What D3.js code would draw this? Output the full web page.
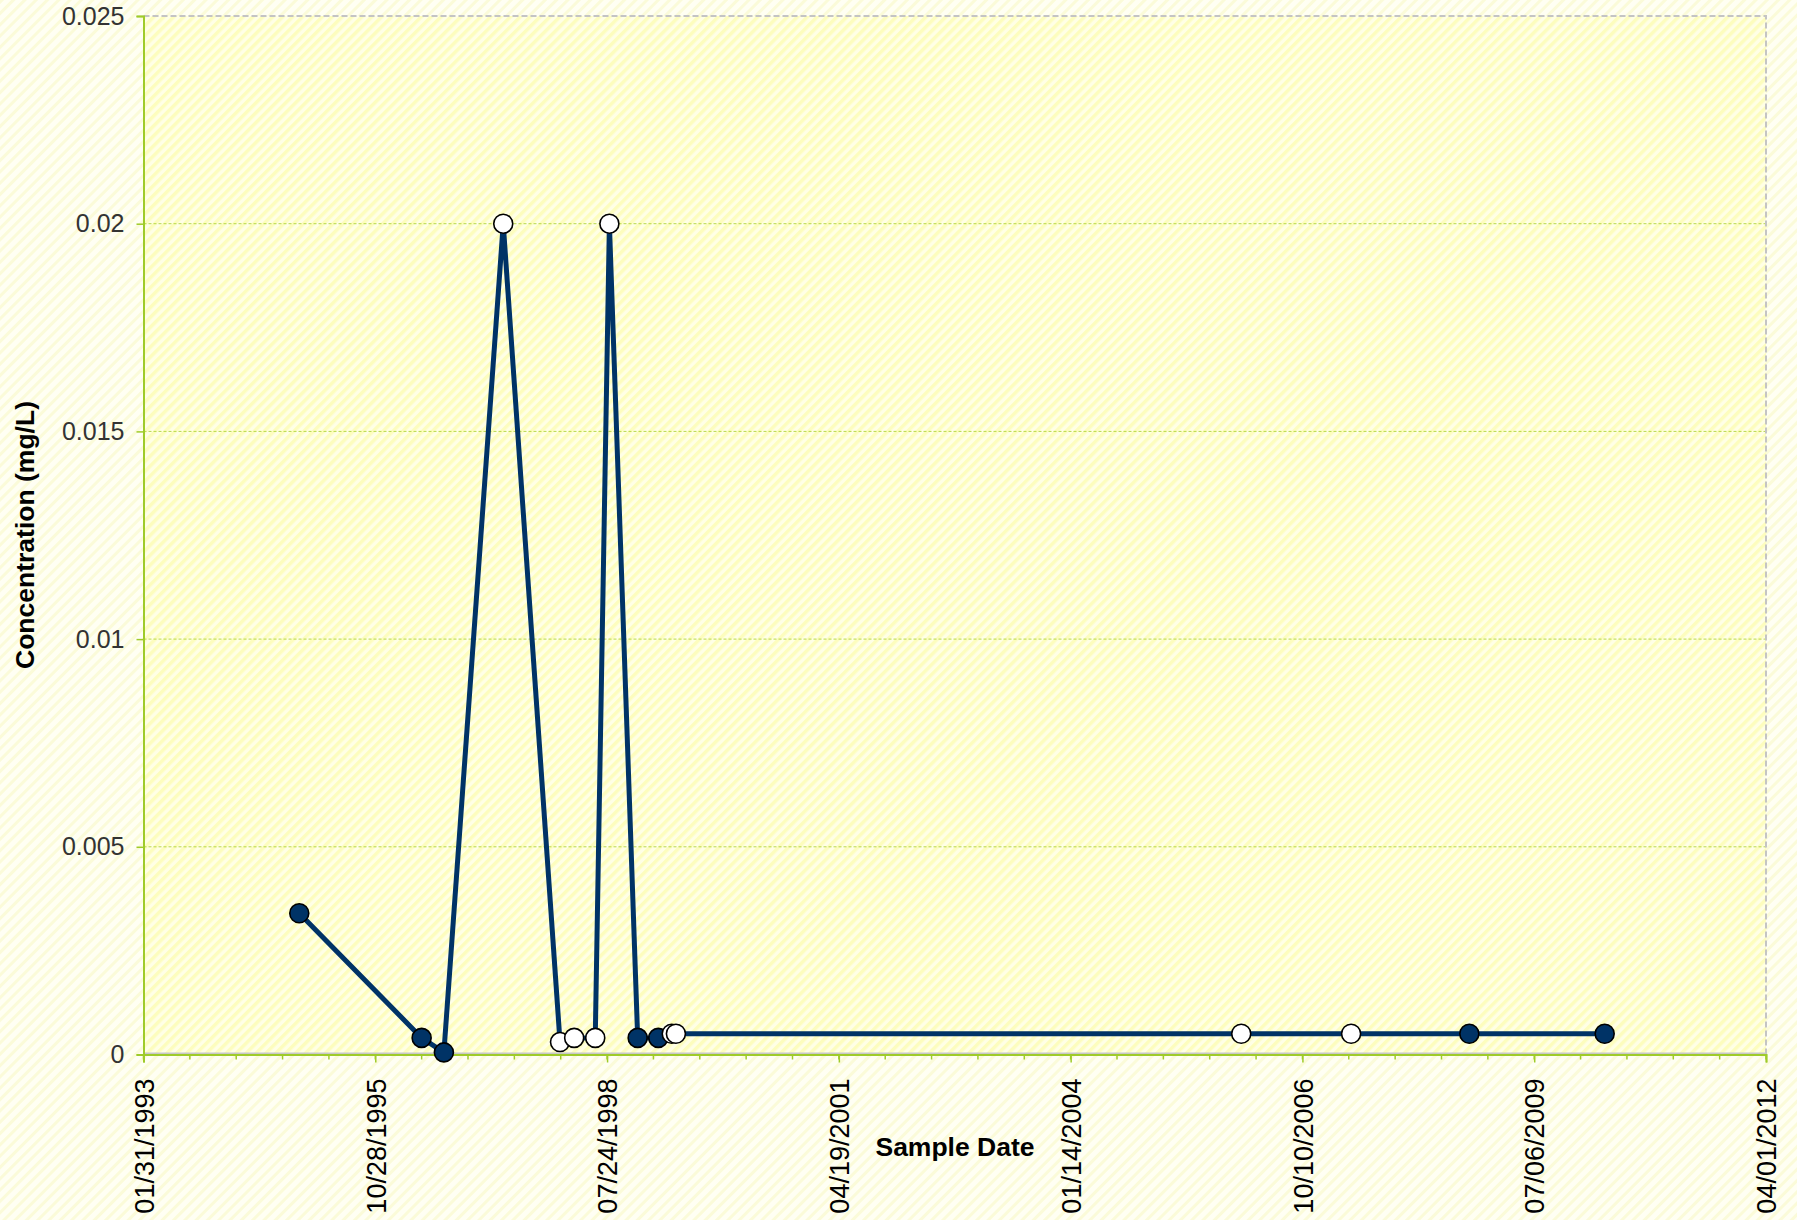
<!DOCTYPE html>
<html><head><meta charset="utf-8">
<script src="https://cdn.jsdelivr.net/npm/d3@7"></script>
<style>
html,body{margin:0;padding:0;background:#fffff4;}
svg{display:block;}
text{font-family:"Liberation Sans",Arial,sans-serif;}
</style></head>
<body>
<svg id="chart" width="1797" height="1220"></svg>
<script>
// ---- data ----
const sampleDates = ["1994-12-04","1996-05-15","1996-08-19","1997-05-02","1998-01-02","1998-03-04","1998-06-03","1998-08-03","1998-12-03","1999-03-02","1999-04-29","1999-05-17","2006-01-19","2007-05-08","2008-09-29","2010-05-06"];
const concentrations = [0.0034,0.0004,0.00005,0.02,0.0003,0.0004,0.0004,0.02,0.0004,0.0004,0.0005,0.0005,0.0005,0.0005,0.0005,0.0005];
const detected = [1,1,1,0,0,0,0,0,1,1,0,0,0,0,1,1];
const yTicks = [0,0.005,0.01,0.015,0.02,0.025];
const yTickLabels = ["0","0.005","0.01","0.015","0.02","0.025"];
const xTickLabels = ["01/31/1993","10/28/1995","07/24/1998","04/19/2001","01/14/2004","10/10/2006","07/06/2009","04/01/2012"];
const xTitle = "Sample Date";
const yTitle = "Concentration (mg/L)";

const W = 1797, H = 1220;
const m = {left:143.5, right:W-1766, top:16, bottom:H-1054.5};
const svg = d3.select("#chart");
const parse = d3.utcParse("%Y-%m-%d");
const fmt = d3.utcFormat("%m/%d/%Y");
const tickDates = xTickLabels.map(s => d3.utcParse("%m/%d/%Y")(s));

const x = d3.scaleUtc().domain([tickDates[0], tickDates[tickDates.length-1]]).range([m.left, W-m.right]);
const y = d3.scaleLinear().domain([0,0.025]).range([H-m.bottom, m.top]);

// patterns
const defs = svg.append("defs");
const p1 = defs.append("pattern").attr("id","outer").attr("patternUnits","userSpaceOnUse")
  .attr("width",8).attr("height",8).attr("patternTransform","rotate(45)");
p1.append("rect").attr("width",8).attr("height",8).attr("fill","#fffff3");
p1.append("rect").attr("width",3).attr("height",8).attr("fill","#fbfbd9");
const p2 = defs.append("pattern").attr("id","inner").attr("patternUnits","userSpaceOnUse")
  .attr("width",7).attr("height",7).attr("patternTransform","rotate(45)");
p2.append("rect").attr("width",7).attr("height",7).attr("fill","#ffffe6");
p2.append("rect").attr("width",3.5).attr("height",7).attr("fill","#fdfdbe");

svg.append("rect").attr("width",W).attr("height",H).attr("fill","url(#outer)");
svg.append("rect").attr("x",m.left).attr("y",m.top).attr("width",W-m.left-m.right).attr("height",H-m.top-m.bottom)
  .attr("fill","url(#inner)");

// gridlines
svg.append("g").selectAll("line").data(yTicks.filter(v=>v>0 && v<0.025)).join("line")
  .attr("x1",m.left).attr("x2",W-m.right).attr("y1",d=>y(d)).attr("y2",d=>y(d))
  .attr("stroke","#b8d84a").attr("stroke-width",1).attr("stroke-dasharray","3,2");

// plot border top/right dashed gray
svg.append("path").attr("d",`M${m.left},${m.top}H${W-m.right}V${H-m.bottom}`)
  .attr("fill","none").attr("stroke","#c4c4c4").attr("stroke-width",2).attr("stroke-dasharray","6,3");
svg.append("line").attr("x1",m.left).attr("x2",W-m.right).attr("y1",H-m.bottom-1).attr("y2",H-m.bottom-1)
  .attr("stroke","#c8c8c8").attr("stroke-width",2);

// y axis
const yAxis = d3.axisLeft(y).tickValues(yTicks).tickFormat((d,i)=>yTickLabels[i]).tickSize(7).tickPadding(12);
const gy = svg.append("g").attr("transform",`translate(${m.left},0)`).call(yAxis);
gy.select(".domain").attr("stroke","#9fcb2a").attr("stroke-width",2);
gy.selectAll(".tick line").attr("stroke","#9fcb2a").attr("stroke-width",1.5);
gy.selectAll(".tick text").attr("font-size",25).attr("fill","#333").attr("font-family","Liberation Sans, Arial, sans-serif");

// x axis minor ticks (every 200 days)
const minor = [];
for (let t = +tickDates[0]; t <= +tickDates[tickDates.length-1]; t += 200*864e5) minor.push(new Date(t));
svg.append("g").selectAll("line").data(minor).join("line")
  .attr("x1",d=>x(d)).attr("x2",d=>x(d)).attr("y1",H-m.bottom).attr("y2",H-m.bottom+5)
  .attr("stroke","#9fcb2a").attr("stroke-width",1.5);

const xAxis = d3.axisBottom(x).tickValues(tickDates).tickFormat(fmt).tickSize(8).tickPadding(0);
const gx = svg.append("g").attr("transform",`translate(0,${H-m.bottom})`).call(xAxis);
gx.select(".domain").attr("stroke","#9fcb2a").attr("stroke-width",2);
gx.selectAll(".tick line").attr("stroke","#9fcb2a").attr("stroke-width",1.5);
gx.selectAll(".tick text").attr("font-size",27).attr("fill","#000")
  .attr("font-family","Liberation Sans, Arial, sans-serif")
  .attr("transform","rotate(-90)").attr("text-anchor","end")
  .attr("x",-24).attr("y",0).attr("dy","0.36em");

// titles
svg.append("text").attr("x",955).attr("y",1156).attr("text-anchor","middle")
  .attr("font-size",26.5).attr("font-weight","bold").attr("fill","#000").text(xTitle);
svg.append("text").attr("transform",`translate(34,535) rotate(-90)`).attr("text-anchor","middle")
  .attr("font-size",26.5).attr("font-weight","bold").attr("fill","#000").text(yTitle);

// series
const pts = sampleDates.map((d,i)=>({date:parse(d), v:concentrations[i], det:detected[i]}));
const line = d3.line().x(d=>x(d.date)).y(d=>y(d.v));
svg.append("path").datum(pts).attr("d",line).attr("fill","none")
  .attr("stroke","#003366").attr("stroke-width",5).attr("stroke-linejoin","round");
svg.append("g").selectAll("circle").data(pts).join("circle")
  .attr("cx",d=>x(d.date)).attr("cy",d=>y(d.v)).attr("r",9.5)
  .attr("fill",d=>d.det ? "#003366" : "#ffffff").attr("stroke","#000").attr("stroke-width",1.6);
</script>
</body></html>
